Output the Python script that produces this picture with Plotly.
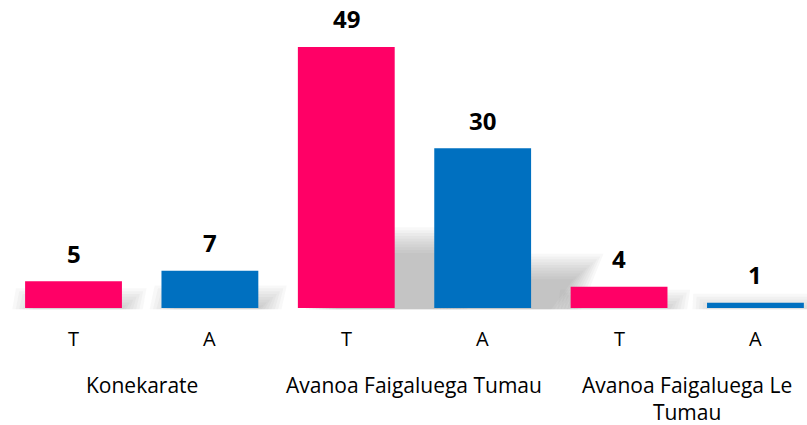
import plotly.graph_objects as go

groups = ["Konekarate", "Avanoa Faigaluega Tumau", "Avanoa Faigaluega Le<br>Tumau"]
sub_labels = ["T", "A"]
t_values = [5, 49, 4]
a_values = [7, 30, 1]

pink = "#FF0066"
blue = "#0070C0"

xs, ys, cols, labs = [], [], [], []
for gi in range(len(groups)):
    for si, (vals, c) in enumerate([(t_values, pink), (a_values, blue)]):
        xs.append(gi * 2 + si)
        ys.append(vals[gi])
        cols.append(c)
        labs.append(sub_labels[si])

bar_w = 0.71
fig = go.Figure()

# soft perspective shadows behind bars: concentric layered shapes below the traces
shapes = []
n_layers = 10
rx, ry = 0.11, 2.4
for x, v in zip(xs, ys):
    h = v * 0.26
    xl = x - bar_w / 2
    xr = x + bar_w / 2
    for k in range(n_layers):
        e = -1 + 2 * k / (n_layers - 1)
        ex, ey = e * rx, e * ry
        top = h + ey
        if top <= 0.3:
            continue
        bot = -0.25
        path = (f"M {xl + 0.013 * h - ex},{bot} L {xr + 0.033 * h + ex},{bot} "
                f"L {xr + 0.054 * h + ex},{top} L {xl + 0.033 * h - ex},{top} Z")
        shapes.append(dict(type="path", xref="x", yref="y", path=path, layer="below",
                           line=dict(width=0), fillcolor="rgba(120,120,120,0.05)"))

fig.add_trace(go.Bar(x=xs, y=ys, width=bar_w, marker=dict(color=cols, line=dict(width=0)),
                     showlegend=False, hoverinfo="skip"))

font_main = "Open Sans, Liberation Sans, sans-serif"
ann = []
for x, v in zip(xs, ys):
    ann.append(dict(x=x, y=v, xref="x", yref="y", text=str(v), showarrow=False,
                    yanchor="middle", yshift=28,
                    font=dict(family=font_main, size=24, color="#000000", weight="bold")))
for x, l in zip(xs, labs):
    ann.append(dict(x=x, y=0, xref="x", yref="y", text=l, showarrow=False,
                    yanchor="middle", yshift=-30,
                    font=dict(family=font_main, size=20, color="#000000")))
for gi, g in enumerate(groups):
    ann.append(dict(x=gi * 2 + 0.5, y=0, xref="x", yref="y", text=g, showarrow=False,
                    yanchor="top", yshift=-61,
                    font=dict(family=font_main, size=21, color="#000000")))

fig.update_layout(
    width=807, height=425,
    margin=dict(l=0, r=0, t=0, b=115),
    plot_bgcolor="rgba(0,0,0,0)", paper_bgcolor="white",
    xaxis=dict(range=[-0.539, 5.378], showgrid=False, zeroline=False, showticklabels=False,
               showline=False, fixedrange=True),
    yaxis=dict(range=[-0.375, 57.82], showgrid=False, zeroline=False, showticklabels=False,
               showline=False, fixedrange=True),
    annotations=ann,
    shapes=shapes,
)

fig.write_html("out.html", config={"displayModeBar": False},
               post_script="document.body.style.margin='0px';")
